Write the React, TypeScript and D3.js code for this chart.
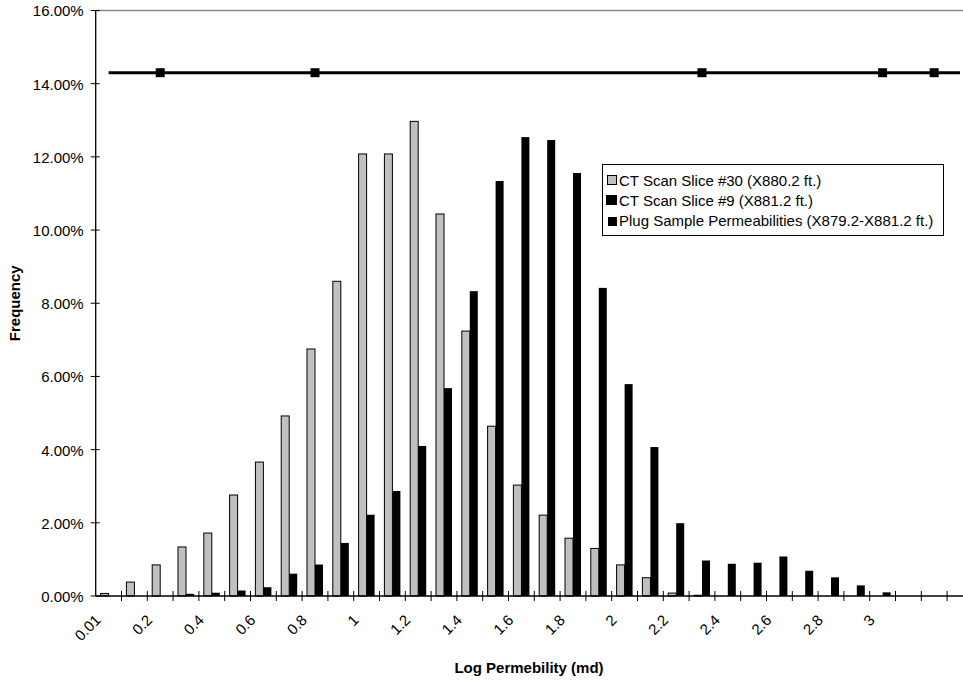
import React from "react";
import * as d3 from "d3";

// Category bins (log permeability, md)
const bins = [
  0.0, 0.1, 0.2, 0.3, 0.4, 0.5, 0.6, 0.7, 0.8, 0.9, 1.0, 1.1, 1.2, 1.3, 1.4, 1.5, 1.6,
  1.7, 1.8, 1.9, 2.0, 2.1, 2.2, 2.3, 2.4, 2.5, 2.6, 2.7, 2.8, 2.9, 3.0, 3.1, 3.2, 3.3,
];
const binLabels = [
  "0.01", "", "0.2", "", "0.4", "", "0.6", "", "0.8", "", "1", "", "1.2", "", "1.4", "", "1.6",
  "", "1.8", "", "2", "", "2.2", "", "2.4", "", "2.6", "", "2.8", "", "3", "", "", "",
];
// Frequency (%)
const slice30 = [
  0.07, 0.38, 0.85, 1.34, 1.72, 2.76, 3.66, 4.92, 6.75, 8.6, 12.08, 12.08, 12.97, 10.44, 7.24,
  4.64, 3.03, 2.21, 1.58, 1.3, 0.85, 0.5, 0.08, 0.02, 0, 0, 0, 0, 0, 0, 0, 0, 0, 0,
];
const slice9 = [
  0, 0, 0, 0.06, 0.09, 0.15, 0.24, 0.61, 0.86, 1.45, 2.22, 2.87, 4.1, 5.68, 8.33, 11.34,
  12.54, 12.46, 11.56, 8.42, 5.79, 4.07, 1.99, 0.97, 0.88, 0.91, 1.08, 0.69, 0.51, 0.29, 0.1,
  0, 0, 0,
];
// Plug sample permeabilities (log md), plotted at a constant frequency level
const plugLineExtent = [0.0, 3.3];
const plugValues = [0.2, 0.8, 2.3, 3.0, 3.2];
const plugLevel = 14.3;

const yTicks = [0, 2, 4, 6, 8, 10, 12, 14, 16];

const seriesNames = [
  "CT Scan Slice #30 (X880.2 ft.)",
  "CT Scan Slice #9 (X881.2 ft.)",
  "Plug Sample Permeabilities (X879.2-X881.2 ft.)",
];

const W = 963;
const H = 680;
const left = 95.7;
const top = 10.5;
const bottom = 596;
const step = 25.8;
const FONT = "'Liberation Sans', Arial, sans-serif";
const GRAY = "#c0c0c0";

export default function App() {
  const idx = d3.range(bins.length);
  const x = d3
    .scaleBand<number>()
    .domain(idx)
    .range([left, left + bins.length * step])
    .paddingInner(0)
    .paddingOuter(0);
  const bw = x.bandwidth();
  const barW = bw * 0.31;
  const off = bw * 0.19;
  const y = d3.scaleLinear().domain([0, 16]).range([bottom, top]);
  const xv = d3
    .scaleLinear()
    .domain([bins[0], bins[bins.length - 1]])
    .range([x(0)! + bw / 2, x(bins.length - 1)! + bw / 2]);
  const line = d3
    .line<number>()
    .x((d) => xv(d))
    .y(() => y(plugLevel));

  return (
    <svg
      width={W}
      height={H}
      style={{ position: "absolute", left: 0, top: 0, background: "#fff" }}
      fontFamily={FONT}
    >
      {/* plot area border (top) */}
      <line x1={left} x2={W} y1={top} y2={top} stroke="#8a8a8a" strokeWidth={1.5} />

      {/* bars */}
      {idx.map((i) =>
        slice30[i] > 0 ? (
          <rect
            key={"g" + i}
            x={x(i)! + off}
            y={y(slice30[i])}
            width={barW}
            height={bottom - y(slice30[i])}
            fill={GRAY}
            stroke="#000"
            strokeWidth={1}
          />
        ) : null
      )}
      {idx.map((i) =>
        slice9[i] > 0 ? (
          <rect
            key={"b" + i}
            x={x(i)! + off + barW}
            y={y(slice9[i])}
            width={barW}
            height={bottom - y(slice9[i])}
            fill="#000"
          />
        ) : null
      )}

      {/* y axis */}
      <line x1={left} x2={left} y1={top} y2={bottom} stroke="#000" strokeWidth={1.3} />
      {yTicks.map((t) => (
        <g key={"yt" + t}>
          <line x1={left - 5} x2={left + 4} y1={y(t)} y2={y(t)} stroke="#000" strokeWidth={1} />
          <text
            x={left - 12}
            y={y(t) + 2}
            textAnchor="end"
            dominantBaseline="middle"
            fontSize={15}
            fill="#000"
          >
            {t.toFixed(2) + "%"}
          </text>
        </g>
      ))}

      {/* x axis */}
      <line x1={left} x2={W} y1={bottom} y2={bottom} stroke="#000" strokeWidth={1.3} />
      {idx.map((i) => (
        <line
          key={"xt" + i}
          x1={x(i)! + bw}
          x2={x(i)! + bw}
          y1={bottom - 5}
          y2={bottom + 5}
          stroke="#000"
          strokeWidth={1}
        />
      ))}
      {idx.map((i) =>
        binLabels[i] ? (
          <text
            key={"xl" + i}
            transform={`translate(${x(i)! + bw / 2 - 7},${bottom + 25}) rotate(-45)`}
            textAnchor="end"
            fontSize={15}
            fill="#000"
          >
            {binLabels[i]}
          </text>
        ) : null
      )}

      {/* plug sample line */}
      <path d={line(plugLineExtent) ?? ""} fill="none" stroke="#000" strokeWidth={3} />
      {plugValues.map((v, i) => (
        <rect
          key={"m" + i}
          x={xv(v) - 4.5}
          y={y(plugLevel) - 4.5}
          width={9}
          height={9}
          fill="#000"
        />
      ))}

      {/* axis titles */}
      <text
        x={529}
        y={673}
        textAnchor="middle"
        fontSize={15}
        fontWeight="bold"
        fill="#000"
      >
        Log Permebility (md)
      </text>
      <text
        transform={`translate(20,${(top + bottom) / 2}) rotate(-90)`}
        textAnchor="middle"
        fontSize={15}
        fontWeight="bold"
        fill="#000"
      >
        Frequency
      </text>

      {/* legend */}
      <g>
        <rect x={602.5} y={164.5} width={341} height={71} fill="#fff" stroke="#000" strokeWidth={1} />
        <rect x={607.5} y={175.5} width={9} height={9} fill={GRAY} stroke="#000" strokeWidth={1} />
        <text x={619} y={186} fontSize={15} fill="#000">{seriesNames[0]}</text>
        <rect x={606} y={195} width={11} height={10} fill="#000" />
        <text x={619} y={206} fontSize={15} fill="#000">{seriesNames[1]}</text>
        <rect x={608} y={217} width={9} height={9} fill="#000" />
        <text x={619} y={226} fontSize={15} fill="#000">{seriesNames[2]}</text>
      </g>
    </svg>
  );
}
